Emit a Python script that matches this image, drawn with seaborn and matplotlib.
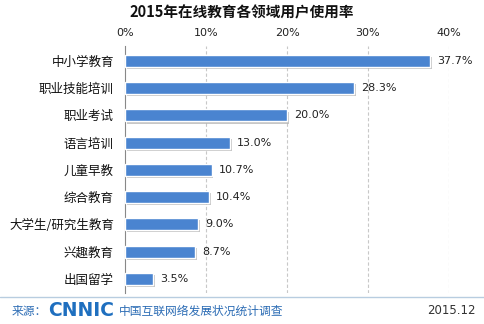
import matplotlib
matplotlib.use("Agg")
import matplotlib.pyplot as plt
import matplotlib.patheffects as pe
from matplotlib.ticker import FixedLocator
import seaborn as sns
import pandas as pd

categories = ["中小学教育", "职业技能培训", "职业考试", "语言培训", "儿童早教",
              "综合教育", "大学生/研究生教育", "兴趣教育", "出国留学"]
rates = [37.7, 28.3, 20.0, 13.0, 10.7, 10.4, 9.0, 8.7, 3.5]
x_ticks = [0, 10, 20, 30, 40]
x_tick_labels = ["0%", "10%", "20%", "30%", "40%"]

title = "2015年在线教育各领域用户使用率"
source_label = "来源："
source_logo = "CNNIC"
source_name = "中国互联网络发展状况统计调查"
date_label = "2015.12"

sns.set_style("white")
plt.rcParams["font.family"] = ["Noto Sans CJK SC", "DejaVu Sans"]

df = pd.DataFrame({"category": categories, "rate": rates})

fig = plt.figure(figsize=(4.84, 3.24), dpi=100)
fig.patch.set_facecolor("white")

ax = fig.add_axes([125 / 484, 1 - 293 / 324, (449 - 125) / 484, (293 - 46) / 324])
ax.patch.set_alpha(0)

sns.barplot(data=df, x="rate", y="category", orient="h", color="#4a84d0",
            saturation=1, width=0.44, ax=ax, zorder=3)

for patch in ax.patches:
    patch.set_path_effects([
        pe.SimplePatchShadow(offset=(1.2, -1.5), shadow_rgbFace="#9a9a9a", alpha=0.55),
        pe.Normal(),
    ])

for i, v in enumerate(rates):
    ax.text(v + 0.85, i, f"{v:.1f}%", va="center", ha="left", fontsize=8,
            color="#222222", family="DejaVu Sans")

ax.set_xlim(0, 40)
ax.set_ylim(8.52, -0.55)
ax.xaxis.tick_top()
ax.set_xticks(x_ticks)
ax.set_xticklabels(x_tick_labels, fontsize=8, color="#222222", family="DejaVu Sans")
ax.tick_params(axis="x", length=0, pad=6)
ax.tick_params(axis="y", which="major", length=0, labelsize=9, labelcolor="#111111", pad=8)
ax.yaxis.set_minor_locator(FixedLocator([i - 0.5 for i in range(len(categories) + 1)]))
ax.tick_params(axis="y", which="minor", length=4, color="#888888", direction="out")
ax.set_xlabel("")
ax.set_ylabel("")

for t in x_ticks[1:]:
    ax.axvline(t, color="#c8c8c8", linestyle=(0, (3, 2)), linewidth=0.8, zorder=1)

for s in ["top", "right", "bottom"]:
    ax.spines[s].set_visible(False)
ax.spines["left"].set_color("#888888")
ax.spines["left"].set_linewidth(0.8)

fig.text(0.5, 1 - 12 / 324, title, ha="center", va="center", fontsize=10.5,
         fontweight="bold", color="#111111")

# footer rule and source line
fig.add_artist(plt.Line2D([0, 1], [1 - 297 / 324] * 2, color="#b8cde0", linewidth=1.0))
fig.text(12 / 484, 1 - 311 / 324, source_label, ha="left", va="center", fontsize=8.5,
         color="#2d6db5")
fig.text(48 / 484, 1 - 311 / 324, source_logo, ha="left", va="center", fontsize=13.5,
         fontweight="heavy", color="#1f6fbf", family="DejaVu Sans")
fig.text(119 / 484, 1 - 311 / 324, source_name, ha="left", va="center", fontsize=8.5,
         color="#2d6db5")
fig.text(476 / 484, 1 - 311 / 324, date_label, ha="right", va="center", fontsize=8.5,
         color="#333333", family="DejaVu Sans")

fig.savefig("out.png", dpi=100, facecolor="white")
